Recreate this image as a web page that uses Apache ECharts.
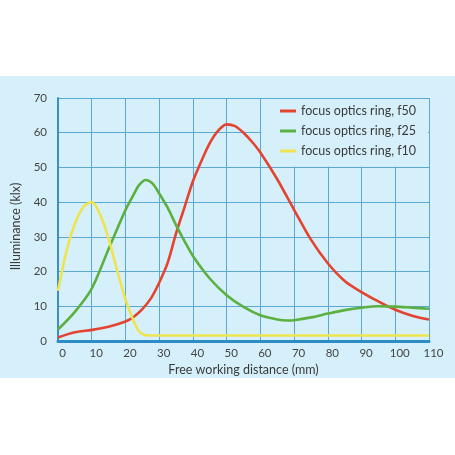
<!DOCTYPE html>
<html>
<head>
<meta charset="utf-8">
<script src="https://cdn.jsdelivr.net/npm/echarts@6/dist/echarts.min.js"></script>
<style>
html,body{margin:0;padding:0;background:#fff;}
#c{width:455px;height:455px;background:linear-gradient(#ffffff 0,#ffffff 76px,#d5f0fa 76px,#d5f0fa 378px,#ffffff 378px);}
</style>
</head>
<body>
<div id="c"></div>
<script>
const seriesNames = ['focus optics ring, f50', 'focus optics ring, f25', 'focus optics ring, f10'];
const xTicks = [0,10,20,30,40,50,60,70,80,90,100,110];
const yTicks = [0,10,20,30,40,50,60,70];

const redX = [0,5,10,15,20,22.5,25,27.5,30,32.5,35,37.5,40,42.5,45,47.5,50,52.5,55,57.5,60,65,70,75,80,85,90,95,100,105,110];
const redY = [1.0,2.5,3.2,4.1,5.6,7.0,9.2,12.2,16.8,22.5,31.0,38.5,46.0,51.8,57.0,60.6,62.4,61.9,60.0,57.4,54.3,46.6,37.8,29.2,22.4,17.3,14.1,11.4,9.0,7.3,6.2];

const greenX = [0,5,10,15,20,22.5,24,26,28,30,32.5,35,37.5,40,45,50,55,60,65,68,70,75,80,85,90,95,100,105,110];
const greenY = [3.3,8.4,15.1,26.5,37.7,42.3,44.9,46.4,45.4,42.5,38.4,33.4,28.8,24.5,18.0,13.2,9.8,7.4,6.2,5.9,6.0,6.8,7.9,8.9,9.6,10.0,9.9,9.6,9.3];

const yellowX = [0,2.5,5,7.5,10,12.5,15,17.5,20,22.5,24,25.5,27,30,40,50,60,70,80,90,100,110];
const yellowY = [14.5,25.8,33.8,38.6,40.0,36.4,29.5,20.5,12.0,5.6,2.8,1.8,1.6,1.6,1.6,1.6,1.6,1.6,1.6,1.6,1.6,1.6];

const colors = ['#e4432f', '#5cb040', '#eee44e'];

function pairs(xs, ys){ return xs.map((x,i)=>[x, ys[i]]); }

const chart = echarts.init(document.getElementById('c'), null, {renderer:'canvas'});
const fontFam = 'Lato, "Open Sans", sans-serif';
const gridLineColor = '#5ba8d2';

const option = {
  backgroundColor: 'transparent',
  textStyle: {fontFamily: fontFam},
  grid: {left: 58, right: 26, top: 98, bottom: 114, containLabel: false},
  xAxis: {
    type: 'value', min: xTicks[0], max: xTicks[xTicks.length-1], interval: 10,
    name: 'Free working distance (mm)', nameLocation: 'middle', nameGap: 19,
    nameTextStyle: {color: '#3a3a3a', fontSize: 12.5, fontFamily: fontFam},
    axisLine: {show: true, lineStyle: {color: '#2d8bc6', width: 3}},
    axisTick: {show: false},
    axisLabel: {color: '#444', fontSize: 11.5, margin: 6, padding:[0,0,0,9], fontFamily: fontFam},
    splitLine: {show: true, lineStyle: {color: gridLineColor, width: 1}}
  },
  yAxis: {
    type: 'value', min: yTicks[0], max: yTicks[yTicks.length-1], interval: 10,
    name: 'Illuminance (klx)', nameLocation: 'middle', nameGap: 29,
    nameTextStyle: {color: '#3a3a3a', fontSize: 12.5, fontFamily: fontFam, padding:[0,0,0,-14]},
    axisLine: {show: true, lineStyle: {color: '#3a8fc4', width: 2}},
    axisTick: {show: false},
    axisLabel: {color: '#444', fontSize: 11.5, margin: 11, fontFamily: fontFam},
    splitLine: {show: true, lineStyle: {color: gridLineColor, width: 1}}
  },
  legend: {
    orient: 'vertical', z: 3,
    left: 280, top: 104,
    icon: 'rect', itemWidth: 16, itemHeight: 3, itemGap: 6, itemTextGap: 4,
    padding: 0,
    textStyle: {color: '#3a3a3a', fontSize: 12.5, lineHeight: 14, fontFamily: fontFam},
    data: seriesNames
  },
  series: [
    {name: seriesNames[0], data: pairs(redX, redY)},
    {name: seriesNames[1], data: pairs(greenX, greenY)},
    {name: seriesNames[2], data: pairs(yellowX, yellowY)}
  ].map((s,i)=>Object.assign(s, {
    type: 'line', smooth: 0.3, showSymbol: false, symbol: 'none',
    z: 2, color: colors[i], lineStyle: {color: colors[i], width: 2.6}, animation: false
  })),
  animation: false
};
chart.setOption(option);

const p1 = chart.convertToPixel({gridIndex: 0}, [60, 70]);
const p2 = chart.convertToPixel({gridIndex: 0}, [110, 50]);
chart.setOption({
  graphic: {elements: [{
    type: 'rect', z: 1, silent: true,
    shape: {x: p1[0] + 1, y: p1[1] + 1, width: p2[0] - p1[0] - 2, height: p2[1] - p1[1] - 2},
    style: {fill: '#d5f0fa'}
  }]}
});
</script>
</body>
</html>
